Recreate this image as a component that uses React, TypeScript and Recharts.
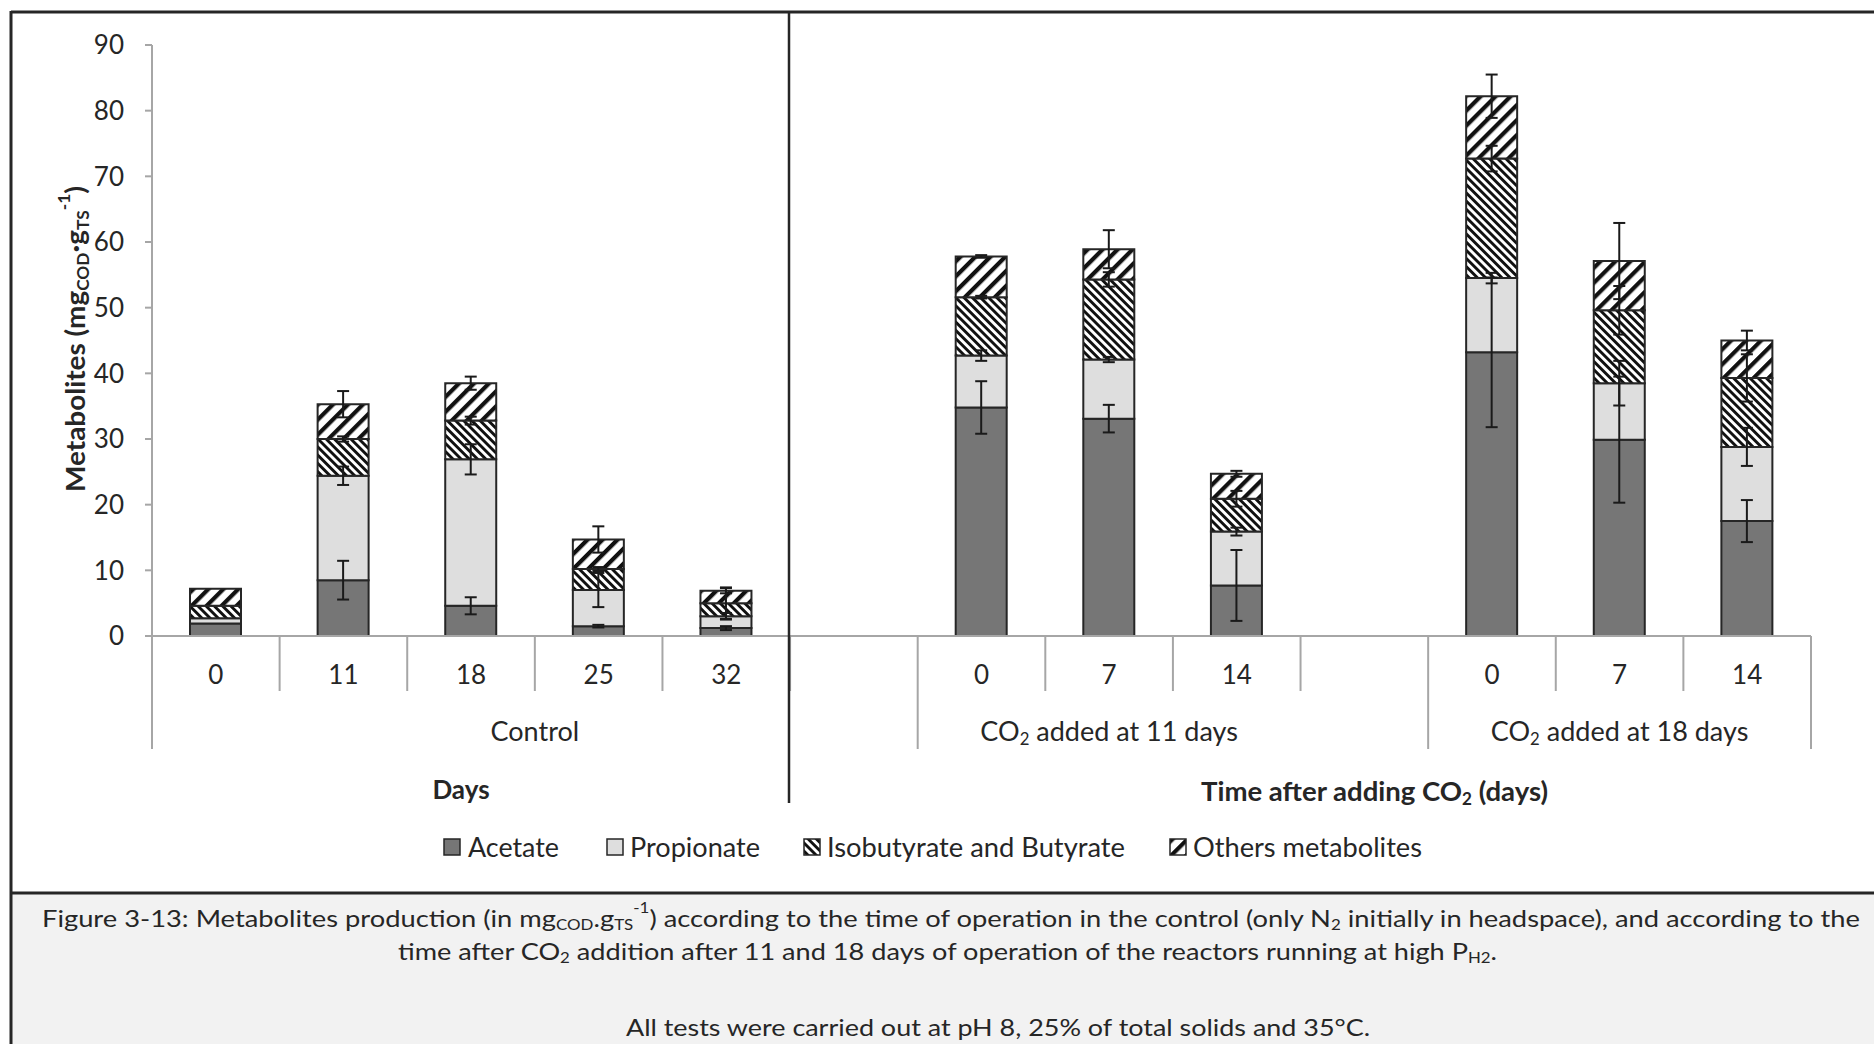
import React from "react";
import { BarChart, Bar, XAxis, YAxis, ErrorBar } from "recharts";

// categories along the x axis (blank slots separate the experiment groups)
const CATEGORY_IDS = ["c0", "c11", "c18", "c25", "c32", "cgap", "a0", "a7", "a14", "agap", "b0", "b7", "b14"];
const TICK_LABELS = ["0", "11", "18", "25", "32", "", "0", "7", "14", "", "0", "7", "14"];

const GROUP_LABELS = ["Control", "CO_{2} added at 11 days", "CO_{2} added at 18 days"];
const GROUP_SIZES = [6, 4, 3];
const GROUP_LABEL_SPANS = [6, 3, 3];

const Y_TICKS = [0, 10, 20, 30, 40, 50, 60, 70, 80, 90];

// stacked segment heights, mgCOD.gTS-1
const ACETATE = [1.9, 8.5, 4.6, 1.5, 1.2, null, 34.8, 33.1, 7.7, null, 43.2, 29.9, 17.5];
const PROPIONATE = [0.8, 15.9, 22.3, 5.5, 1.8, null, 7.9, 9.0, 8.2, null, 11.3, 8.6, 11.3];
const ISOBUTYRATE = [1.9, 5.6, 5.9, 3.2, 2.0, null, 8.9, 12.2, 5.0, null, 18.2, 11.1, 10.5];
const OTHERS = [2.6, 5.3, 5.7, 4.5, 1.9, null, 6.2, 4.6, 3.8, null, 9.5, 7.5, 5.7];

// standard deviations
const ACETATE_ERR = [null, 2.95, 1.3, 0.2, 0.3, null, 4.0, 2.1, 5.4, null, 11.4, 9.6, 3.2];
const PROPIONATE_ERR = [null, 1.4, 2.3, 2.6, 0.5, null, 0.8, 0.4, 0.6, null, 0.8, 3.4, 2.9];
const ISOBUTYRATE_ERR = [null, 0.4, 0.6, 0.3, 2.4, null, 0.2, 1.1, 1.2, null, 1.95, 3.7, 3.6];
const OTHERS_ERR = [null, 2.0, 1.0, 2.0, 0.4, null, 0.2, 2.9, 0.45, null, 3.3, 5.8, 1.5];

const SERIES_NAMES = ["Acetate", "Propionate", "Isobutyrate and Butyrate", "Others metabolites"];

const CAPTION_LINES = [
  "Figure 3-13: Metabolites production (in mg_{COD}.g_{TS}^{-1}) according to the time of operation in the control (only N_{2} initially in headspace), and according to the",
  "time after CO_{2} addition after 11 and 18 days of operation of the reactors running at high P_{H2}.",
  "All tests were carried out at pH 8, 25% of total solids and 35°C.",
];

const FONT = "Lato, 'Open Sans', sans-serif";
const TEXT = "#262626";
const AXIS_GREY = "#a6a6a6";
const OUTLINE = "#262626";
const ACETATE_FILL = "#767676";
const PROPIONATE_FILL = "#dedede";

const data = CATEGORY_IDS.map((id, i) => ({
  id,
  acetate: ACETATE[i],
  propionate: PROPIONATE[i],
  isobutyrate: ISOBUTYRATE[i],
  others: OTHERS[i],
  acetateErr: ACETATE_ERR[i],
  propionateErr: PROPIONATE_ERR[i],
  isobutyrateErr: ISOBUTYRATE_ERR[i],
  othersErr: OTHERS_ERR[i],
}));

// "_{..}" -> subscript, "^{..}" -> superscript
function rich(text: string, fontSize: number) {
  const parts = text.split(/(_\{[^}]*\}|\^\{[^}]*\})/).filter(Boolean);
  let shift = 0;
  return parts.map((p, i) => {
    const kind = p.startsWith("_{") ? "sub" : p.startsWith("^{") ? "sup" : "n";
    const content = kind === "n" ? p : p.slice(2, -1);
    const target = kind === "sub" ? fontSize * 0.28 : kind === "sup" ? -fontSize * 0.4 : 0;
    const dy = target - shift;
    shift = target;
    return (
      <tspan key={i} dy={dy} fontSize={kind === "n" ? fontSize : fontSize * 0.62}>
        {content}
      </tspan>
    );
  });
}

const groupStarts = GROUP_SIZES.reduce<number[]>((acc, n, g) => {
  acc.push(g === 0 ? 0 : acc[g - 1] + GROUP_SIZES[g - 1]);
  return acc;
}, []);

function CategoryTick(props: any) {
  const { x, y, payload } = props;
  const i: number = payload?.index ?? props.index ?? 0;
  const half: number = payload?.offset || 63.8;
  const g = groupStarts.findIndex((s, k) => i >= s && i < s + GROUP_SIZES[k]);
  const isGroupEnd = i === groupStarts[g] + GROUP_SIZES[g] - 1;
  const isGroupStart = i === groupStarts[g];
  return (
    <g>
      {i === 0 && <line x1={x - half} x2={x - half} y1={y} y2={y + 113} stroke={AXIS_GREY} strokeWidth={2} />}
      <line x1={x + half} x2={x + half} y1={y} y2={y + (isGroupEnd ? 113 : 55)} stroke={AXIS_GREY} strokeWidth={2} />
      <text x={x} y={y + 38} textAnchor="middle" dominantBaseline="central" fontSize={26} fill={TEXT} fontFamily={FONT}>
        {TICK_LABELS[i]}
      </text>
      {isGroupStart && (
        <text
          x={x - half + GROUP_LABEL_SPANS[g] * half}
          y={y + 94}
          textAnchor="middle"
          dominantBaseline="central"
          fontSize={27}
          fill={TEXT}
          fontFamily={FONT}
        >
          {rich(GROUP_LABELS[g], 27)}
        </text>
      )}
    </g>
  );
}

function Overlay() {
  const legendLayout = [
    { icon: 444, text: 468, width: 91, fill: ACETATE_FILL },
    { icon: 607, text: 630, width: 130, fill: PROPIONATE_FILL },
    { icon: 804, text: 827, width: 298, fill: "url(#hatchDown)" },
    { icon: 1170, text: 1193, width: 229, fill: "url(#hatchUp)" },
  ];
  const captionLayout = [
    { x: 42, y: 917, w: 1818 },
    { x: 398, y: 950, w: 1099 },
    { x: 626, y: 1026, w: 744 },
  ];
  return (
    <svg width={1874} height={1044} style={{ position: "absolute", left: 0, top: 0, pointerEvents: "none" }}>
      <defs>
        <pattern id="hatchDown" patternUnits="userSpaceOnUse" width={5.8} height={5.8} patternTransform="rotate(-45)">
          <rect width={5.8} height={5.8} fill="#fff" />
          <rect width={2.9} height={5.8} fill="#111" />
        </pattern>
        <pattern id="hatchUp" patternUnits="userSpaceOnUse" width={10.6} height={10.6} patternTransform="rotate(45)">
          <rect width={10.6} height={10.6} fill="#fff" />
          <rect width={4.2} height={10.6} fill="#111" />
        </pattern>
      </defs>
      {/* caption box */}
      <rect x={11} y={893} width={1863} height={151} fill="#f2f2f2" />
      <line x1={11} x2={1874} y1={893} y2={893} stroke={OUTLINE} strokeWidth={3} />
      <line x1={11} x2={1874} y1={12} y2={12} stroke={OUTLINE} strokeWidth={3} />
      <line x1={11} x2={11} y1={11} y2={1044} stroke={OUTLINE} strokeWidth={3} />
      {/* divider between control and CO2 parts */}
      <line x1={789} x2={789} y1={12} y2={803} stroke={OUTLINE} strokeWidth={2.5} />

      <text
        transform="translate(74 339) rotate(-90)"
        textAnchor="middle"
        dominantBaseline="central"
        fontSize={27}
        fontWeight="bold"
        fill={TEXT}
        fontFamily={FONT}
        textLength={306}
        lengthAdjust="spacingAndGlyphs"
      >
        {rich("Metabolites (mg_{COD}·g_{TS}^{-1})", 27)}
      </text>

      <text x={461} y={789} textAnchor="middle" dominantBaseline="central" fontSize={26} fontWeight="bold" fill={TEXT} fontFamily={FONT}>
        Days
      </text>
      <text
        x={1201}
        y={791}
        dominantBaseline="central"
        fontSize={26}
        fontWeight="bold"
        fill={TEXT}
        fontFamily={FONT}
        textLength={347}
        lengthAdjust="spacingAndGlyphs"
      >
        {rich("Time after adding CO_{2} (days)", 26)}
      </text>

      {SERIES_NAMES.map((name, k) => {
        const l = legendLayout[k];
        return (
          <g key={name}>
            <rect x={l.icon} y={839} width={16} height={16} fill={l.fill} stroke={OUTLINE} strokeWidth={1.5} />
            <text
              x={l.text}
              y={847}
              dominantBaseline="central"
              fontSize={26}
              fill={TEXT}
              fontFamily={FONT}
              textLength={l.width}
              lengthAdjust="spacingAndGlyphs"
            >
              {name}
            </text>
          </g>
        );
      })}

      {CAPTION_LINES.map((line, k) => {
        const c = captionLayout[k];
        return (
          <text
            key={k}
            x={c.x}
            y={c.y}
            dominantBaseline="central"
            fontSize={24}
            fill={TEXT}
            fontFamily={FONT}
            textLength={c.w}
            lengthAdjust="spacingAndGlyphs"
          >
            {rich(line, 24)}
          </text>
        );
      })}
    </svg>
  );
}

export default function App() {
  return (
    <div style={{ position: "absolute", left: 0, top: 0, width: 1874, height: 1044, background: "#fff" }}>
      <div style={{ position: "absolute", left: 0, top: 0 }}>
        <BarChart width={1874} height={893} data={data} margin={{ top: 45, right: 63, bottom: 0, left: 0 }}>
          <defs>
            <pattern id="barHatchDown" patternUnits="userSpaceOnUse" width={5.8} height={5.8} patternTransform="rotate(-45)">
              <rect width={5.8} height={5.8} fill="#fff" />
              <rect width={2.9} height={5.8} fill="#111" />
            </pattern>
            <pattern id="barHatchUp" patternUnits="userSpaceOnUse" width={10.6} height={10.6} patternTransform="rotate(45)">
              <rect width={10.6} height={10.6} fill="#fff" />
              <rect width={4.2} height={10.6} fill="#111" />
            </pattern>
          </defs>
          <XAxis
            dataKey="id"
            height={257}
            interval={0}
            tickLine={false}
            tickSize={0}
            tickMargin={0}
            axisLine={{ stroke: AXIS_GREY, strokeWidth: 2 }}
            tick={<CategoryTick />}
          />
          <YAxis
            width={152}
            domain={[0, 90]}
            ticks={Y_TICKS}
            interval={0}
            tickSize={7}
            tickMargin={21}
            axisLine={{ stroke: AXIS_GREY, strokeWidth: 2 }}
            tickLine={{ stroke: AXIS_GREY, strokeWidth: 2 }}
            tick={{ fontSize: 26, fill: TEXT, fontFamily: FONT }}
          />
          <Bar dataKey="acetate" name={SERIES_NAMES[0]} stackId="m" barSize={51} fill={ACETATE_FILL} stroke={OUTLINE} strokeWidth={2} isAnimationActive={false}>
            <ErrorBar dataKey="acetateErr" width={6} stroke="#1a1a1a" strokeWidth={2} isAnimationActive={false} />
          </Bar>
          <Bar dataKey="propionate" name={SERIES_NAMES[1]} stackId="m" barSize={51} fill={PROPIONATE_FILL} stroke={OUTLINE} strokeWidth={2} isAnimationActive={false}>
            <ErrorBar dataKey="propionateErr" width={6} stroke="#1a1a1a" strokeWidth={2} isAnimationActive={false} />
          </Bar>
          <Bar dataKey="isobutyrate" name={SERIES_NAMES[2]} stackId="m" barSize={51} fill="url(#barHatchDown)" stroke={OUTLINE} strokeWidth={2} isAnimationActive={false}>
            <ErrorBar dataKey="isobutyrateErr" width={6} stroke="#1a1a1a" strokeWidth={2} isAnimationActive={false} />
          </Bar>
          <Bar dataKey="others" name={SERIES_NAMES[3]} stackId="m" barSize={51} fill="url(#barHatchUp)" stroke={OUTLINE} strokeWidth={2} isAnimationActive={false}>
            <ErrorBar dataKey="othersErr" width={6} stroke="#1a1a1a" strokeWidth={2} isAnimationActive={false} />
          </Bar>
        </BarChart>
      </div>
      <Overlay />
    </div>
  );
}
